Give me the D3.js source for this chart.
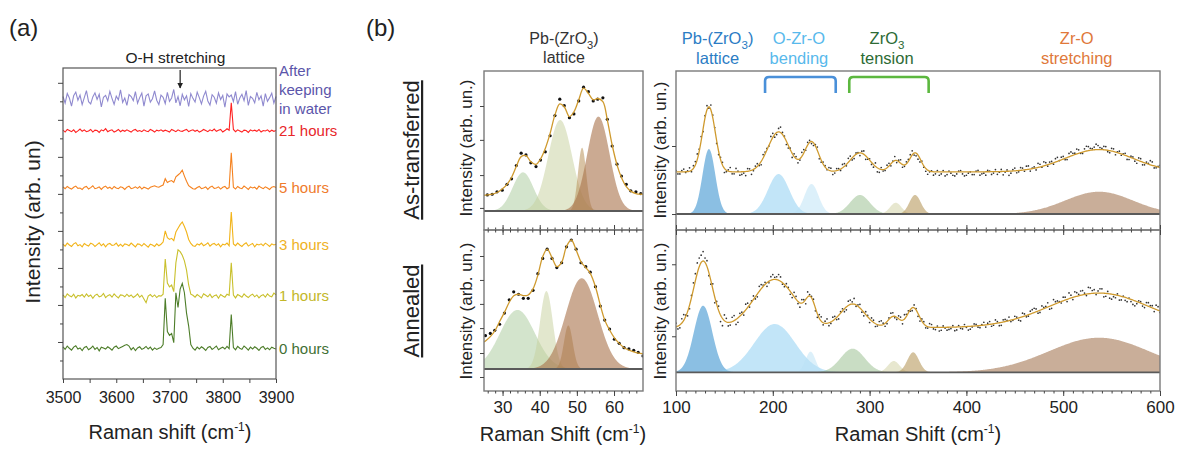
<!DOCTYPE html>
<html>
<head>
<meta charset="utf-8">
<script src="https://d3js.org/d3.v7.min.js"></script>
<style>
  body{ margin:0; background:#fff; }
  svg{ font-family:"Liberation Sans", Arial, sans-serif; }
  .tick line{ stroke:#444; }
  .tick text{ fill:#222; }
</style>
</head>
<body>
<div class="container"></div>
<script>
// ---------- (a) O-H region, stacked spectra (arb. units) ----------
var ohWave = d3.range(3500, 3901, 4);
var ohNames = ["After keeping in water", "21 hours", "5 hours", "3 hours", "1 hours", "0 hours"];
var ohOffsets = [757, 670, 516, 362, 224, 83];
var ohXTicks = d3.range(3500, 3901, 50);
var ohMajorY = [100, 200, 300, 400, 500, 600, 700, 800];
var ohMinorY = [50, 150, 250, 350, 450, 550, 650, 750];

var ohWater = [6,-12,14,2,-20,8,18,-4,10,-16, 3,22,-8,-14,5,16,-2,12,-22,4,
  9,-6,20,1,-15,7,-3,24,-10,2, -18,11,6,-5,19,-12,3,15,-20,8, 13,-9,0,21,-4,-16,
  10,4,-13,17,-7,2,25,-11,6,-19,12,-3,8,-21,14,1,
  -9,18,3,-14,7,20,-6,-17,11,4,-12,16,-2,9,-23,13,5, 10,
  -8,19,-15,2,12,-5,22,-18,6,1,-11,17,-3,8,-20,14,-7,3,15,-12,6];
var oh21h = [2,-3,4,1,-2,3,-4,0,5,-1, 3,-2,0,4,-3,2,1,-4,3,0,
  6,-2,1,3,-3,0,4,-2,2,-1, 3,0,-3,2,4,-1,1,-2,3,0, -2,4,1,-3,2,0,
  3,-1,2,0,-3,4,1,-2,3,0,-1,2,4,-2,1,3,
  -1,2,-3,0,4,1,-2,3,0,5,-1,2,4,-3,1,6,2, 76,
  4,-2,3,0,-3,2,1,-4,3,0,2,-1,4,-3,1,0,3,-2,2,-1,1];
var oh5h = [3,-2,4,0,-3,2,5,-1,0,-4, 2,4,-3,1,6,-2,0,3,-4,2,
  5,-1,2,-3,4,0,-2,3,1,-4, 2,5,-2,0,3,-1,4,-3,2,0, -3,2,4,6,3,2,
  5,8,25,15,18,20,15,30,35,40,48,32,18,6,2,-2,
  -3,1,4,-2,0,3,-4,2,5,-1,0,3,-3,2,4,-2,1, 95,
  2,-3,4,0,-2,5,1,-4,3,0,2,-3,5,1,-2,3,0,-4,2,4,1];
var oh3h = [2,-3,5,0,-4,3,6,-2,1,-5, 4,0,-3,5,2,-4,1,6,-2,3,
  -5,2,4,-1,0,5,-3,2,-4,3, 1,-2,5,0,-5,3,2,-3,4,-1, -6,2,0,-4,3,-2,
  2,8,38,20,15,18,12,35,45,55,62,50,35,15,4,-2,
  -4,3,0,5,-2,1,6,-3,2,4,-1,3,-5,2,0,5,-2, 89,
  3,-2,5,0,-4,2,6,-3,1,4,-5,2,0,3,-2,5,1,-4,3,0,2];
var oh1h = [3,-4,6,1,-2,5,-5,2,0,4, -3,6,-1,3,-6,2,5,-2,0,7,
  -4,1,4,-3,6,0,-5,3,2,-2, 5,-1,3,-4,0,6,-3,2,-8,-18, 0,4,-2,3,-4,1,
  0,5,100,35,25,30,12,90,125,120,110,95,70,30,5,2,
  -3,4,0,-5,6,2,-2,5,-4,1,3,-6,4,0,-3,5,2, 90,
  3,-5,4,1,-3,6,0,-4,2,5,-2,3,-5,1,4,-3,6,0,-2,8,3];
var oh0h = [4,-3,6,0,-5,3,7,-2,1,-6, 2,5,-4,0,6,-3,2,-7,3,1,
  -2,4,0,-5,3,6,-1,2,5,8, 10,6,-4,2,-6,1,4,-3,0,5, -2,3,-5,1,-3,0,
  2,10,135,45,35,40,15,150,110,160,175,150,95,60,10,0,
  -5,3,-2,4,0,-6,2,5,-3,1,6,-4,0,3,-2,5,-1, 91,
  2,-4,5,0,-3,6,1,-5,3,-2,4,0,-6,2,5,-3,1,-4,3,0,-2];
var ohSeries = [ohWater, oh21h, oh5h, oh3h, oh1h, oh0h];

// ---------- (b) low-frequency window 25-68 cm-1 ----------
var lowXTicks = [30, 40, 50, 60];
var lowXMinor = d3.range(26, 68, 2);

// as-transferred
var tlDotX = [25.9,27.2,28.5,29.9,31.2,32.4,33.7,35.0,36.3,37.6,39.0,40.2,41.5,42.8,44.1,45.4,46.6,
  48.0,49.2,50.5,51.8,53.1,54.4,55.6,57.0,58.2,59.5,60.8,62.0,63.3,64.5,65.9,67.2];
var tlDotY = [0.47,0.49,0.56,0.61,0.78,0.94,1.33,1.69,1.64,1.41,1.30,1.49,1.73,2.20,2.79,3.27,3.08,
  2.73,2.84,3.22,3.62,3.49,3.22,3.27,3.31,2.68,1.90,1.37,1.02,0.78,0.59,0.56,0.51];
var tlFitX = [25.0,25.9,27.2,28.5,29.9,31.2,32.4,33.7,35.0,36.3,37.6,39.0,40.2,41.5,42.8,44.1,45.4,46.6,
  48.0,49.2,50.5,51.8,53.1,54.4,55.6,57.0,58.2,59.5,60.8,62.0,63.3,64.5,65.9,67.2,67.8];
var tlFitY = [0.46,0.47,0.49,0.54,0.64,0.78,0.98,1.30,1.59,1.62,1.44,1.36,1.52,1.83,2.27,2.81,3.13,3.05,
  2.76,2.90,3.25,3.59,3.44,3.25,3.29,3.20,2.66,1.93,1.35,0.98,0.71,0.58,0.51,0.49,0.49];
var tlCenter = [35.5, 45.5, 51.4, 55.8];
var tlHeight = [1.13, 2.66, 1.85, 2.76];
var tlSigma = [2.8, 3.2, 1.1, 3.0];
var tlYTicks = [0.09, 1.05, 2.08, 3.07];

// annealed
var blDotX = [25.4,26.7,27.9,29.2,30.5,31.8,33.0,34.3,35.6,36.9,38.2,39.5,40.8,42.0,43.3,44.6,45.9,
  47.2,48.5,49.8,51.1,52.4,53.6,55.0,56.3,57.5,58.8,60.1,61.4,62.7,64.0,65.3,66.5,67.8];
var blDotY = [1.38,1.47,1.60,1.85,2.31,2.86,3.19,3.09,2.92,2.92,3.25,3.94,4.57,4.95,4.57,4.19,4.39,
  5.05,5.33,4.95,4.39,4.23,4.00,3.40,2.60,2.02,1.65,1.23,1.06,0.88,0.83,0.77,0.69,0.54];
var blFitX = [25.0,25.4,26.7,27.9,29.2,30.5,31.8,33.0,34.3,35.6,36.9,38.2,39.5,40.8,42.0,43.3,44.6,45.9,
  47.2,48.5,49.8,51.1,52.4,53.6,55.0,56.3,57.5,58.8,60.1,61.4,62.7,64.0,65.3,66.5,67.8];
var blFitY = [1.12,1.16,1.34,1.57,1.96,2.34,2.76,3.03,3.09,3.03,3.06,3.31,3.88,4.64,4.95,4.60,4.23,4.41,
  5.06,5.33,4.92,4.43,4.19,3.95,3.40,2.64,2.02,1.61,1.29,1.06,0.88,0.78,0.71,0.66,0.63];
var blCenter = [34.0, 41.8, 47.7, 51.3];
var blHeight = [2.44, 3.22, 1.80, 3.75];
var blSigma = [4.7, 1.72, 1.2, 4.3];
var blYTicks = [-0.33, 0.66, 1.69, 2.69, 3.68, 4.67];

// ---------- (b) 100-600 cm-1 window ----------
var hiXTicks = [100, 200, 300, 400, 500, 600];
var hiXMinor = d3.range(110, 600, 10);
var hiShift = d3.range(100, 601, 4);
var hiShift2 = d3.range(102, 600, 4);

// as-transferred: fitted peaks + flat background, scatter of points about the fit (x0.01)
var trCenter = [134, 206, 240, 290, 327, 347, 537];
var trHeight = [0.956, 0.588, 0.441, 0.279, 0.167, 0.28, 0.328];
var trSigma = [6.6, 11, 7.3, 10.2, 5.9, 5.9, 35];
var trBase = 0.62;
var trScatter = [2,-3,4,1,-2,5,3,-4,6,7, 2,-5,4,-2,6,-3,1,-4,-6,3, -2,4,-5,3,-1,6,-3,8,2,-4,
  -6,3,-2,5,4,-3,2,-5,3,-1, 4,-3,2,5,-2,6,-4,1,3,-5, 2,-4,-6,3,-2,4,1,-3,5,-2,
  3,6,-4,-5,-2,-6,1,-3,-5,2, -4,-2,-6,1,-3,-5,0,-4,2,-3, -5,1,-2,-4,3,-1,-6,2,-3,4,
  -2,5,1,-3,4,6,-2,3,5,0, 4,-3,6,2,5,-2,7,3,4,6, 2,5,-3,4,1,-2,3,-4,2,-5, 4,-3,1,5,-2,3];
var trScatter2 = [-3,2,-1,5,4,8,6,3,-2,4, -4,3,-6,2,-3,5,-5,-2,4,-6, 3,-2,5,2,7,-4,5,3,-5,2,
  4,-5,6,-2,3,-4,5,-3,2,4, -5,3,-2,4,6,-3,2,-4,5,-2, -3,5,-5,-2,4,-3,6,2,-4,3,
  5,-3,-6,2,-4,-1,-5,2,-3,-6, 1,-5,-3,2,-6,-2,-4,1,-5,-2, 2,-4,3,-1,-5,2,-3,4,-2,3,
  5,-3,2,6,-1,4,3,-2,6,4, -2,5,3,7,-1,4,6,2,8,3, 5,-2,4,-4,3,1,-5,2,-3,4, -4,2,6,-3,1];
var trYTicks = [0, 1];

// annealed
var brCenter = [128, 202, 239, 282.5, 325, 345, 537];
var brHeight = [0.925, 0.67, 0.286, 0.328, 0.157, 0.278, 0.48];
var brSigma = [9.5, 21.2, 5.1, 12.4, 6, 6, 52];
var brBase = 0.62;
var brScatter = [5,-4,8,-6,3,10,12,13,8,-5, -8,6,-10,5,-4,7,-6,3,8,-3, 5,-4,6,3,-2,7,4,6,-3,2,
  -5,4,-6,3,7,2,-4,5,-3,6, -2,4,-5,3,-4,6,8,2,-3,4, -5,3,-2,6,-4,2,5,-3,4,6,
  3,-4,2,-5,3,-2,4,-3,-5,2, -4,-2,-5,2,-3,-1,-4,3,-2,1, -3,4,-2,2,-4,3,5,-1,2,-5,
  3,-2,5,4,-3,2,6,-4,3,1, 5,-3,4,7,2,6,-2,8,5,3, 6,-4,-6,-3,2,-5,-4,1,-6,-3, 2,-4,5,3,6,-2];
var brScatter2 = [-4,6,2,-5,9,14,10,6,-4,7, 4,-9,8,-5,6,-7,4,-4,6,2, -3,7,2,-5,5,3,8,-2,4,-4,
  6,-3,5,-6,2,4,-5,6,3,-4, 5,-3,2,-4,6,3,-2,5,-5,2, 4,-4,5,2,-3,6,-2,4,-5,3,
  -2,4,-4,3,-3,5,-2,2,-4,-1, -3,2,-4,-2,3,-5,-1,2,-3,4, 2,-3,5,-4,3,1,-2,4,-3,5,
  -2,4,6,-3,5,2,-4,7,3,-2, 4,8,-3,5,6,2,9,4,-2,6, -5,3,-7,-4,-6,1,-5,-3,-7,2, -3,4,2,-4,5];
var brYTicks = [0.5, 1.5];

// band assignments above the right window
var bandLine1 = ["Pb-(ZrO_3)", "O-Zr-O", "ZrO_3", "Zr-O"];
var bandLine2 = ["lattice", "bending", "tension", "stretching"];
var bandAt = [143, 227, 318, 514];
var bracketFrom = [192, 279];
var bracketTo = [265, 361];

// ---------- styles ----------
var ohLineColor = ["#8f89cf", "#ff2222", "#f5821f", "#f2b41a", "#c9c02c", "#4d7d29"];
var ohTextColor = ["#5b55aa", "#e8262a", "#ef7b2b", "#efb21f", "#c3b728", "#3f7034"];
var lowFill = ["#a8c99a", "#c5d09c", "#b8925a", "#a8714a"];
var lowAlpha = [0.5, 0.5, 0.55, 0.6];
var hiFill = ["#3d95d0", "#8fd0f2", "#b9e2f6", "#9cc193", "#d3d3a8", "#b89a5e", "#a57855"];
var hiAlpha = [0.6, 0.55, 0.5, 0.55, 0.55, 0.6, 0.6];
var bandColor = ["#2b7cc4", "#58b9ec", "#2d6b35", "#e0783a"];
var bracketColor = ["#4a90d9", "#5cb83f"];

var svg = d3.select(".container").append("svg").attr("width", 1189).attr("height", 450);

// text with _3 subscripts and ^-1 superscripts
function richText(sel, str, size){
  var parts = str.split(/(_\d|\^-?\d)/);
  var shift = 0;
  parts.forEach(function(s){
    if(!s) return;
    if(s[0] === "_"){
      sel.append("tspan").attr("dy", size*0.3).attr("font-size", size*0.7).text(s.slice(1));
      shift = -size*0.3;
    }else if(s[0] === "^"){
      sel.append("tspan").attr("dy", -size*0.4).attr("font-size", size*0.6).text(s.slice(1));
      shift = size*0.4;
    }else{
      sel.append("tspan").attr("dy", shift).text(s);
      shift = 0;
    }
  });
  return sel;
}

function cleanAxis(g){ g.select(".domain").remove(); }

// ================= panel (a) =================
var aBox = {l:63, t:68, r:276, b:379};
var xa = d3.scaleLinear().domain([3500, 3900]).range([aBox.l, aBox.r]);
var ya = d3.scaleLinear().domain([0, 840]).range([aBox.b, aBox.t]);
var ga = svg.append("g");

ohSeries.forEach(function(s, k){
  var line = d3.line()
    .x(function(d, i){ return xa(ohWave[i]); })
    .y(function(d){ return ya(d + ohOffsets[k]); });
  ga.append("path").datum(s).attr("d", line)
    .attr("fill", "none").attr("stroke", ohLineColor[k]).attr("stroke-width", 1.1);
});

ga.append("rect").attr("x", aBox.l).attr("y", aBox.t)
  .attr("width", aBox.r - aBox.l).attr("height", aBox.b - aBox.t)
  .attr("fill", "none").attr("stroke", "#555").attr("stroke-width", 1.2);

ga.append("g").attr("transform", "translate(0," + aBox.b + ")")
  .call(d3.axisBottom(xa).tickValues(ohXTicks).tickSize(4).tickPadding(9)
    .tickFormat(function(d){ return d % 100 === 0 ? d : ""; }))
  .call(cleanAxis)
  .selectAll("text").attr("font-size", 16);
ga.append("g").attr("transform", "translate(" + aBox.l + ",0)")
  .call(d3.axisLeft(ya).tickValues(ohMajorY).tickSize(5).tickFormat(""))
  .call(cleanAxis);
ga.append("g").attr("transform", "translate(" + aBox.l + ",0)")
  .call(d3.axisLeft(ya).tickValues(ohMinorY).tickSize(3).tickFormat(""))
  .call(cleanAxis);

// trace labels
ohNames.forEach(function(n, k){
  var t = ga.append("text").attr("x", aBox.r + 3).attr("y", ya(ohOffsets[k]))
    .attr("font-size", 15).attr("fill", ohTextColor[k]);
  if(k === 0){
    var words = ["After", "keeping", "in water"];
    words.forEach(function(w, j){
      t.append("tspan").attr("x", aBox.r + 3).attr("dy", j === 0 ? "-1.53em" : "1.27em").text(w);
    });
  }else{
    t.attr("dy", "0.36em").text(n);
  }
});

// O-H stretching marker
svg.append("defs").append("marker").attr("id", "arrow")
  .attr("viewBox", "0 0 10 10").attr("refX", 9).attr("refY", 5)
  .attr("markerWidth", 5).attr("markerHeight", 5).attr("orient", "auto")
  .append("path").attr("d", "M0,0 L10,5 L0,10 z").attr("fill", "#222");
ga.append("text").attr("x", xa(3711)).attr("y", 63).attr("text-anchor", "middle")
  .attr("font-size", 15.5).attr("fill", "#222").text("O-H stretching");
ga.append("line").attr("x1", xa(3720)).attr("x2", xa(3720)).attr("y1", 70).attr("y2", 88)
  .attr("stroke", "#222").attr("stroke-width", 1.2).attr("marker-end", "url(#arrow)");

svg.append("text").attr("x", 9).attr("y", 36).attr("font-size", 24).attr("fill", "#222").text("(a)");
svg.append("text").attr("transform", "translate(40,222) rotate(-90)").attr("text-anchor", "middle")
  .attr("font-size", 21).attr("fill", "#222").text("Intensity (arb. un)");
richText(svg.append("text").attr("x", 170).attr("y", 439).attr("text-anchor", "middle")
  .attr("font-size", 20).attr("fill", "#222"), "Raman shift (cm^-1)", 20);

// ================= panel (b) =================
function gauss(v, c, h, s){ return h * Math.exp(-(v - c) * (v - c) / (2 * s * s)); }

function drawPanel(p){
  var g = svg.append("g");
  var x = d3.scaleLinear().domain(p.xd).range([p.x0, p.x1]);
  var y = d3.scaleLinear().domain(p.yd).range([p.y1, p.y0]);
  svg.select("defs").append("clipPath").attr("id", "clip-" + p.id)
    .append("rect").attr("x", p.x0).attr("y", p.y0).attr("width", p.x1 - p.x0).attr("height", p.y1 - p.y0);
  var body = g.append("g").attr("clip-path", "url(#clip-" + p.id + ")");

  var xs = d3.range(p.xd[0], p.xd[1] + 1e-6, (p.xd[1] - p.xd[0]) / 600);
  p.center.forEach(function(c, k){
    var area = d3.area()
      .x(function(v){ return x(v); })
      .y0(y(0))
      .y1(function(v){ return y(gauss(v, c, p.height[k], p.sigma[k])); });
    body.append("path").datum(xs).attr("d", area)
      .attr("fill", p.fill[k]).attr("fill-opacity", p.alpha[k]);
  });
  body.append("line").attr("x1", p.x0).attr("x2", p.x1).attr("y1", y(0)).attr("y2", y(0))
    .attr("stroke", "#5a5a5a").attr("stroke-width", 1.8);

  function fitAt(v){
    var s = p.base;
    p.center.forEach(function(c, k){ s += gauss(v, c, p.height[k], p.sigma[k]); });
    return s;
  }

  var dots, fitPath;
  if(p.fitX){
    fitPath = d3.line().curve(d3.curveCatmullRom.alpha(0.5))
      .x(function(d, i){ return x(p.fitX[i]); }).y(function(d){ return y(d); })(p.fitY);
    dots = p.dotX.map(function(v, i){ return [v, p.dotY[i]]; });
  }else{
    fitPath = d3.line().x(function(v){ return x(v); }).y(function(v){ return y(fitAt(v)); })(xs);
    dots = hiShift.map(function(v, i){ return [v, fitAt(v) + p.scatter[i] / 100]; })
      .concat(hiShift2.map(function(v, i){ return [v, fitAt(v) + p.scatter2[i] / 100]; }));
  }
  body.selectAll("circle.pt").data(dots).enter().append("circle").attr("class", "pt")
    .attr("cx", function(d){ return x(d[0]); }).attr("cy", function(d){ return y(d[1]); })
    .attr("r", p.dotR).attr("fill", p.dotColor);
  body.append("path").attr("d", fitPath).attr("fill", "none")
    .attr("stroke", "#cf9a2e").attr("stroke-width", 1.3);

  g.append("rect").attr("x", p.x0).attr("y", p.y0).attr("width", p.x1 - p.x0).attr("height", p.y1 - p.y0)
    .attr("fill", "none").attr("stroke", "#7a7a7a").attr("stroke-width", 1.4);

  g.append("g").attr("transform", "translate(" + p.x0 + ",0)")
    .call(d3.axisLeft(y).tickValues(p.yTicks).tickSize(4).tickFormat("")).call(cleanAxis);

  if(p.top){
    g.append("g").attr("transform", "translate(0," + p.y1 + ")")
      .call(d3.axisBottom(x).tickValues(p.xTicks).tickSize(-5).tickFormat("")).call(cleanAxis);
    g.append("g").attr("transform", "translate(0," + p.y1 + ")")
      .call(d3.axisBottom(x).tickValues(p.xMinor).tickSize(-2.5).tickFormat("")).call(cleanAxis);
  }else{
    g.append("g").attr("transform", "translate(0," + p.y0 + ")")
      .call(d3.axisTop(x).tickValues(p.xTicks).tickSize(-5).tickFormat("")).call(cleanAxis);
    g.append("g").attr("transform", "translate(0," + p.y0 + ")")
      .call(d3.axisTop(x).tickValues(p.xMinor).tickSize(-2.5).tickFormat("")).call(cleanAxis);
    g.append("g").attr("transform", "translate(0," + p.y1 + ")")
      .call(d3.axisBottom(x).tickValues(p.xTicks).tickSize(5).tickPadding(5)).call(cleanAxis)
      .selectAll("text").attr("font-size", 17);
    g.append("g").attr("transform", "translate(0," + p.y1 + ")")
      .call(d3.axisBottom(x).tickValues(p.xMinor).tickSize(2.5).tickFormat("")).call(cleanAxis);
  }
  return x;
}

drawPanel({id:"tl", top:true, x0:484, x1:643, y0:71, y1:230, xd:[25, 67.8], yd:[-0.556, 4.094],
  center:tlCenter, height:tlHeight, sigma:tlSigma, fill:lowFill, alpha:lowAlpha,
  fitX:tlFitX, fitY:tlFitY, dotX:tlDotX, dotY:tlDotY, dotR:1.6, dotColor:"#111",
  yTicks:tlYTicks, xTicks:lowXTicks, xMinor:lowXMinor});
drawPanel({id:"bl", top:false, x0:484, x1:643, y0:230, y1:391, xd:[25, 67.8], yd:[-0.909, 5.744],
  center:blCenter, height:blHeight, sigma:blSigma, fill:lowFill, alpha:lowAlpha,
  fitX:blFitX, fitY:blFitY, dotX:blDotX, dotY:blDotY, dotR:1.6, dotColor:"#111",
  yTicks:blYTicks, xTicks:lowXTicks, xMinor:lowXMinor});
var xr = drawPanel({id:"tr", top:true, x0:676, x1:1160, y0:71, y1:230, xd:[100, 600], yd:[-0.235, 2.103],
  center:trCenter, height:trHeight, sigma:trSigma, fill:hiFill, alpha:hiAlpha, base:trBase,
  scatter:trScatter, scatter2:trScatter2, dotR:0.85, dotColor:"#333",
  yTicks:trYTicks, xTicks:hiXTicks, xMinor:hiXMinor});
drawPanel({id:"br", top:false, x0:676, x1:1160, y0:230, y1:391, xd:[100, 600], yd:[-0.26, 1.976],
  center:brCenter, height:brHeight, sigma:brSigma, fill:hiFill, alpha:hiAlpha, base:brBase,
  scatter:brScatter, scatter2:brScatter2, dotR:0.85, dotColor:"#333",
  yTicks:brYTicks, xTicks:hiXTicks, xMinor:hiXMinor});

// band labels and brackets
bandLine1.forEach(function(s, k){
  richText(svg.append("text").attr("x", xr(bandAt[k])).attr("y", 44).attr("text-anchor", "middle")
    .attr("font-size", 16.5).attr("fill", bandColor[k]), s, 16.5);
  svg.append("text").attr("x", xr(bandAt[k])).attr("y", 64).attr("text-anchor", "middle")
    .attr("font-size", 16.5).attr("fill", bandColor[k]).text(bandLine2[k]);
});
bracketFrom.forEach(function(a, k){
  var x1 = xr(a), x2 = xr(bracketTo[k]), yt = 77, yb = 93, r = 4;
  svg.append("path")
    .attr("d", "M" + x1 + "," + yb + " L" + x1 + "," + (yt + r) + " Q" + x1 + "," + yt + " " + (x1 + r) + "," + yt +
      " L" + (x2 - r) + "," + yt + " Q" + x2 + "," + yt + " " + x2 + "," + (yt + r) + " L" + x2 + "," + yb)
    .attr("fill", "none").attr("stroke", bracketColor[k]).attr("stroke-width", 2.6);
});

// titles
svg.append("text").attr("x", 366).attr("y", 36).attr("font-size", 24).attr("fill", "#222").text("(b)");
richText(svg.append("text").attr("x", 564).attr("y", 44).attr("text-anchor", "middle")
  .attr("font-size", 16).attr("fill", "#333"), "Pb-(ZrO_3)", 16);
svg.append("text").attr("x", 564).attr("y", 63).attr("text-anchor", "middle")
  .attr("font-size", 16).attr("fill", "#333").text("lattice");

[[150, "As-transferred"], [311, "Annealed"]].forEach(function(d){
  svg.append("text").attr("transform", "translate(419," + d[0] + ") rotate(-90)")
    .attr("text-anchor", "middle").attr("font-size", 22).attr("fill", "#222")
    .attr("text-decoration", "underline").text(d[1]);
});
[[472, 148], [472, 311], [666, 150], [666, 311]].forEach(function(d){
  svg.append("text").attr("transform", "translate(" + d[0] + "," + d[1] + ") rotate(-90)")
    .attr("text-anchor", "middle").attr("font-size", 17).attr("fill", "#222").text("Intensity (arb. un.)");
});
richText(svg.append("text").attr("x", 563).attr("y", 441).attr("text-anchor", "middle")
  .attr("font-size", 20).attr("fill", "#222"), "Raman Shift (cm^-1)", 20);
richText(svg.append("text").attr("x", 918).attr("y", 441).attr("text-anchor", "middle")
  .attr("font-size", 20).attr("fill", "#222"), "Raman Shift (cm^-1)", 20);
</script>
</body>
</html>
